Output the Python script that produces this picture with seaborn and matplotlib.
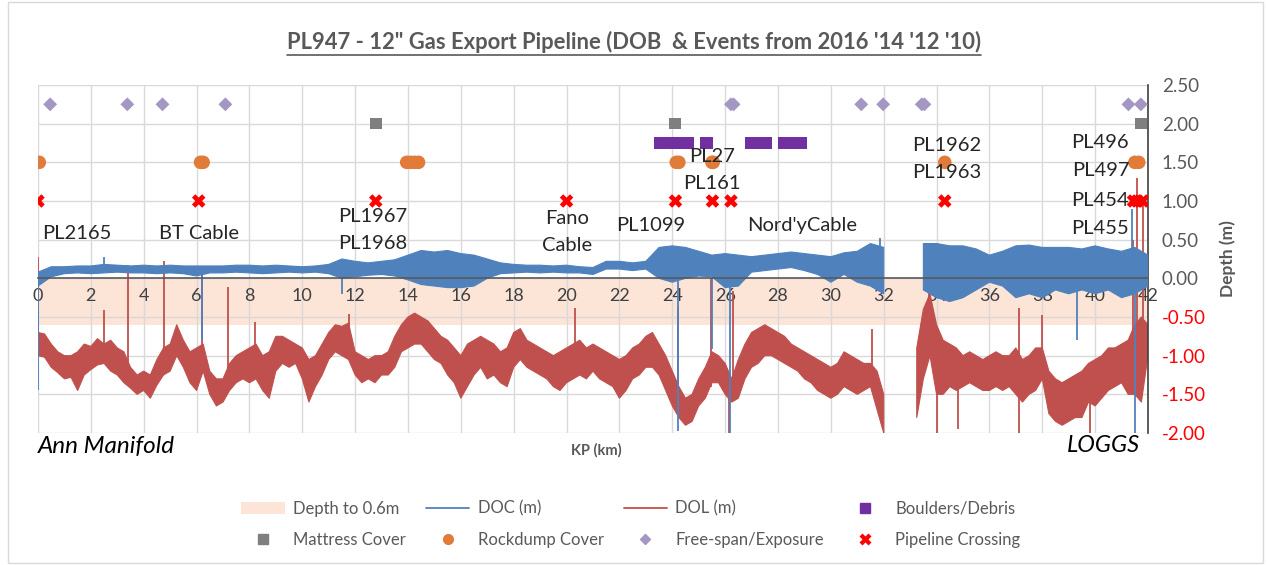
import numpy as np
import matplotlib
matplotlib.use("Agg")
import matplotlib.pyplot as plt
import seaborn as sns
from matplotlib.lines import Line2D
from matplotlib.patches import Patch, Rectangle

# ---- data (KP in km, depth in m) ----
kp_dol = np.arange(0, 42.01, 0.25)
dol_hi = [-0.70, -0.72, -0.85, -0.95, -1.00, -1.00, -0.95, -0.85, -0.88, -0.78, -0.85, -0.80,
          -0.90, -0.95, -1.15, -1.25, -1.20, -1.25, -1.05, -0.90, -0.85, -0.60, -0.80, -0.95,
          -0.90, -0.85, -1.20, -1.30, -1.30, -1.10, -1.00, -0.95, -0.90, -0.85, -1.00, -0.95,
          -0.75, -0.75, -0.80, -0.85, -0.90, -1.05, -1.00, -0.85, -0.70, -0.60, -0.62, -0.58,
          -0.95, -1.00, -1.05, -1.00, -1.00, -0.95, -0.75, -0.60, -0.50, -0.45, -0.50, -0.55,
          -0.65, -0.75, -0.80, -0.90, -1.00, -0.85, -0.80, -0.75, -0.80, -0.85, -0.95, -0.90,
          -0.70, -0.65, -0.80, -0.85, -0.90, -0.95, -1.00, -0.95, -0.90, -0.85, -0.80, -0.90,
          -0.85, -0.90, -0.95, -1.00, -1.05, -1.00, -0.90, -0.85, -0.75, -0.70, -0.85, -1.00,
          -1.20, -1.40, -1.55, -1.50, -1.30, -1.15, -0.95, -1.00, -1.10, -1.30, -1.05, -0.85,
          -0.70, -0.65, -0.60, -0.65, -0.70, -0.75, -0.85, -0.90, -0.95, -1.00, -1.05, -1.10,
          -1.15, -1.10, -0.95, -1.00, -1.05, -1.10, -1.10, -1.20, -1.50, np.nan, np.nan, np.nan,
          np.nan, -0.90, -0.40, -0.20, -0.60, -0.80, -0.85, -0.90, -1.00, -0.95, -1.00, -1.05,
          -1.00, -0.95, -1.00, -1.00, -0.90, -1.05, -1.00, -0.90, -0.90, -1.20, -1.30, -1.35,
          -1.30, -1.25, -1.20, -1.10, -1.05, -1.00, -0.90, -0.90, -0.85, -0.80, -0.60, -0.50,
          -0.60]
dol_lo = [-1.00, -1.02, -1.15, -1.22, -1.30, -1.28, -1.45, -1.25, -1.18, -1.12, -1.10, -1.20,
          -1.25, -1.35, -1.42, -1.50, -1.45, -1.55, -1.38, -1.25, -1.20, -1.00, -1.15, -1.35,
          -1.45, -1.20, -1.50, -1.65, -1.60, -1.45, -1.35, -1.30, -1.35, -1.30, -1.45, -1.55,
          -1.20, -1.10, -1.15, -1.10, -1.30, -1.60, -1.40, -1.25, -1.05, -0.95, -1.00, -1.05,
          -1.25, -1.35, -1.30, -1.35, -1.25, -1.25, -1.15, -0.95, -0.90, -0.85, -0.85, -0.95,
          -1.05, -1.10, -1.25, -1.35, -1.55, -1.40, -1.25, -1.15, -1.30, -1.25, -1.35, -1.40,
          -1.15, -1.05, -1.15, -1.20, -1.25, -1.30, -1.40, -1.45, -1.35, -1.30, -1.25, -1.30,
          -1.20, -1.30, -1.35, -1.40, -1.55, -1.45, -1.30, -1.25, -1.15, -1.15, -1.25, -1.45,
          -1.65, -1.80, -1.90, -1.85, -1.65, -1.55, -1.35, -1.35, -1.50, -1.60, -1.55, -1.30,
          -1.15, -1.10, -1.00, -1.00, -1.05, -1.10, -1.15, -1.20, -1.30, -1.35, -1.45, -1.50,
          -1.55, -1.50, -1.40, -1.45, -1.50, -1.45, -1.40, -1.70, -2.00, np.nan, np.nan, np.nan,
          np.nan, -1.80, -1.30, -1.00, -1.50, -1.50, -1.40, -1.45, -1.40, -1.35, -1.40, -1.45,
          -1.45, -1.40, -1.45, -1.40, -1.50, -1.60, -1.50, -1.45, -1.30, -1.75, -1.85, -1.90,
          -1.85, -1.80, -1.80, -1.60, -1.65, -1.55, -1.45, -1.40, -1.35, -1.50, -1.50, -1.60,
          -1.00]

kp_doc = np.arange(0, 42.01, 0.5)
doc_hi = [0.08, 0.15, 0.15, 0.16, 0.16, 0.18, 0.17, 0.16, 0.17, 0.16, 0.17, 0.16,
          0.16, 0.16, 0.16, 0.17, 0.17, 0.16, 0.17, 0.16, 0.15, 0.16, 0.18, 0.25,
          0.22, 0.20, 0.22, 0.24, 0.30, 0.36, 0.34, 0.36, 0.32, 0.30, 0.25, 0.20,
          0.18, 0.17, 0.17, 0.16, 0.17, 0.15, 0.14, 0.22, 0.22, 0.20, 0.22, 0.40,
          0.42, 0.40, 0.35, 0.30, 0.32, 0.30, 0.28, 0.30, 0.32, 0.34, 0.32, 0.30,
          0.28, 0.33, 0.35, 0.45, 0.40, np.nan, np.nan, 0.45, 0.45, 0.42, 0.42, 0.38,
          0.30, 0.35, 0.42, 0.43, 0.40, 0.40, 0.40, 0.38, 0.42, 0.38, 0.35, 0.40,
          0.30]
doc_lo = [-0.10, 0.02, 0.06, 0.07, 0.06, 0.07, 0.08, 0.07, 0.07, 0.06, 0.07, 0.06,
          0.03, 0.07, 0.07, 0.08, 0.07, 0.06, 0.07, 0.08, 0.07, 0.08, 0.06, 0.00,
          0.02, 0.04, 0.05, 0.03, -0.02, -0.08, -0.10, -0.12, -0.12, -0.10, 0.00, 0.06,
          0.07, 0.08, 0.07, 0.08, 0.07, 0.07, 0.05, 0.12, 0.12, 0.10, 0.12, 0.00,
          -0.05, 0.00, 0.03, 0.02, -0.12, -0.10, 0.08, 0.10, 0.12, 0.14, 0.10, 0.05,
          -0.05, 0.05, -0.05, -0.10, -0.20, np.nan, np.nan, -0.15, -0.25, -0.30, -0.25, -0.15,
          -0.05, -0.10, -0.25, -0.20, -0.25, -0.15, -0.20, -0.15, -0.20, -0.15, -0.25, -0.20,
          -0.10]

# narrow spikes: KP, base, tip
dol_spike_kp = [0.0, 2.5, 3.4, 4.75, 6.2, 7.2, 8.2, 11.75, 20.3, 24.2, 25.45, 26.15, 26.3,
                31.55, 33.7, 34.0, 34.8, 37.1, 38.0, 39.8, 41.45, 41.6, 41.8]
dol_spike_base = [-0.9, -0.9, -1.1, -1.0, -1.0, -1.2, -1.0, -0.8, -1.0, -1.5, -1.4, -1.5, -1.5,
                  -1.2, -1.0, -1.2, -1.3, -0.39, -1.2, -1.4, -1.0, -1.0, -1.0]
dol_spike_tip = [0.28, -0.41, 0.17, 0.22, 0.15, -0.11, -0.57, -0.46, -0.39, -0.37, 0.0, -2.0, -0.17,
                 -0.65, 0.15, -2.0, -1.95, -2.0, -0.48, -2.0, 0.5, 1.3, 1.0]
doc_spike_kp = [0.0, 2.5, 6.2, 11.5, 24.2, 25.5, 26.2, 31.85, 39.3, 41.4, 41.5]
doc_spike_base = [0.0, 0.15, 0.05, 0.05, 0.0, 0.0, 0.0, 0.2, 0.0, 0.2, 0.0]
doc_spike_tip = [-1.45, 0.28, -0.80, -0.20, -1.98, -0.91, -2.0, 0.52, -0.80, 0.9, -2.0]

# events
freespan_kp = [0.46, 3.38, 4.71, 7.09, 26.22, 26.32, 31.15, 31.98, 33.44, 33.54, 41.26, 41.73]
mattress_kp = [12.78, 24.1, 41.73]
rockdump_kp = [0.05, 6.15, 6.25, 13.95, 14.1, 14.25, 14.4, 24.15, 24.25, 25.5, 25.55,
               34.31, 41.5, 41.65]
boulder_kp = [23.56, 23.7, 23.85, 24.0, 24.15, 24.3, 24.45, 24.6, 25.28, 25.32,
              27.0, 27.15, 27.3, 27.45, 27.54, 28.23, 28.4, 28.55, 28.7, 28.86]
crossing_kp = [0.0, 6.08, 12.78, 20.0, 24.12, 25.52, 26.22, 34.31, 41.45, 41.6, 41.8]

label_text = ["PL2165", "BT Cable", "PL1967", "PL1968", "Fano", "Cable", "PL1099", "PL27",
              "PL161", "Nord'yCable", "PL1962", "PL1963", "PL496", "PL497", "PL454", "PL455"]
label_kp = [1.45, 6.08, 12.65, 12.65, 20.0, 20.0, 23.2, 25.5, 25.5, 28.9, 34.4, 34.4,
            40.2, 40.2, 40.2, 40.2]
label_y = [0.58, 0.58, 0.80, 0.45, 0.78, 0.43, 0.68, 1.58, 1.23, 0.68, 1.72, 1.37,
           1.76, 1.40, 1.01, 0.64]

# ---- colours ----
c_doc = "#4F81BD"
c_dol = "#C0504D"
c_band = "#FCE4D6"
c_text = "#595959"

sns.set_theme(style="whitegrid")
plt.rcParams["font.family"] = ["Lato", "DejaVu Sans"]

fig = plt.figure(figsize=(12.68, 5.65), dpi=100)
ax = fig.add_axes([38 / 1268, 1 - 433 / 565, 1110 / 1268, 348 / 565])
ax.set_facecolor("white")

ax.axhspan(-0.6, 0, color=c_band, zorder=0.5, lw=0)

ax.fill_between(kp_dol, dol_lo, dol_hi, color=c_dol, lw=0.8, zorder=2)
ax.vlines(dol_spike_kp, dol_spike_base, dol_spike_tip, color=c_dol, lw=1.3, zorder=2)
ax.fill_between(kp_doc, doc_lo, doc_hi, color=c_doc, lw=0.8, zorder=3)
ax.vlines(doc_spike_kp, doc_spike_base, doc_spike_tip, color=c_doc, lw=1.3, zorder=3)

sns.scatterplot(x=boulder_kp, y=[1.75] * len(boulder_kp), marker="s", s=80,
                color="#7030A0", edgecolor="none", ax=ax, zorder=4)
sns.scatterplot(x=mattress_kp, y=[2.0] * len(mattress_kp), marker="s", s=70,
                color="#7F7F7F", edgecolor="none", ax=ax, zorder=4)
sns.scatterplot(x=rockdump_kp, y=[1.5] * len(rockdump_kp), marker="o", s=95,
                color="#E07B39", edgecolor="none", ax=ax, zorder=4)
sns.scatterplot(x=freespan_kp, y=[2.25] * len(freespan_kp), marker="D", s=50,
                color="#A497C4", edgecolor="none", ax=ax, zorder=4)
sns.scatterplot(x=crossing_kp, y=[1.0] * len(crossing_kp), marker="X", s=95,
                color="#FF0000", edgecolor="none", ax=ax, zorder=5)

for t, k, yv in zip(label_text, label_kp, label_y):
    ax.text(k, yv, t, ha="center", va="center", fontsize=14.5, color="#262626", zorder=6)

ax.set_xlim(0, 42)
ax.set_ylim(-2.0, 2.5)
ax.set_xticks(range(0, 43, 2))
ax.set_yticks(np.arange(-2.0, 2.51, 0.5))
ax.set_yticklabels([f"{v:.2f}" for v in np.arange(-2.0, 2.51, 0.5)])
ax.yaxis.tick_right()
ax.yaxis.set_label_position("right")
ax.tick_params(axis="x", length=0, pad=7, labelsize=13, labelcolor="#404040")
ax.tick_params(axis="y", length=0, pad=10, labelsize=13.5)
for lab, v in zip(ax.get_yticklabels(), np.arange(-2.0, 2.51, 0.5)):
    lab.set_color("#FF0000" if v < 0 else c_text)
ax.grid(True, color="#D9D9D9", lw=1)
ax.set_axisbelow(True)
for side in ["left", "top"]:
    ax.spines[side].set_visible(False)
ax.spines["bottom"].set_position(("data", 0))
ax.spines["bottom"].set_color("#595959")
ax.spines["bottom"].set_linewidth(1.2)
ax.spines["bottom"].set_zorder(3.5)
ax.spines["right"].set_color("#404040")
ax.spines["right"].set_linewidth(1.2)
ax.set_ylabel("Depth (m)", fontsize=12.5, fontweight="bold", color=c_text, labelpad=10)
ax.set_xlabel("")

# title with underline
title = fig.text(0.5, 1 - 42 / 565, "PL947 - 12\" Gas Export Pipeline (DOB  & Events from 2016 '14 '12 '10)",
                 ha="center", va="center", fontsize=15.8, fontweight="bold", color=c_text)
fig.canvas.draw()
bb = title.get_window_extent().transformed(fig.transFigure.inverted())
fig.add_artist(Line2D([bb.x0, bb.x1], [bb.y0 - 0.004, bb.y0 - 0.004], color=c_text, lw=1.2))

fig.text(38 / 1268, 1 - 446 / 565, "Ann Manifold", ha="left", va="center",
         fontsize=17.5, style="italic", color="#000000")
fig.text(1140 / 1268, 1 - 446 / 565, "LOGGS", ha="right", va="center",
         fontsize=17, style="italic", color="#000000")
fig.text(596 / 1268, 1 - 450 / 565, "KP (km)", ha="center", va="center",
         fontsize=10.5, fontweight="bold", color=c_text)

handles = [
    Patch(facecolor=c_band, edgecolor="none", label="Depth to 0.6m"),
    Line2D([], [], marker="s", ls="none", color="#7F7F7F", ms=7, label="Mattress Cover"),
    Line2D([], [], color=c_doc, lw=1.3, label="DOC (m)"),
    Line2D([], [], marker="o", ls="none", color="#E07B39", ms=7, label="Rockdump Cover"),
    Line2D([], [], color=c_dol, lw=1.3, label="DOL (m)"),
    Line2D([], [], marker="D", ls="none", color="#A497C4", ms=5.5, label="Free-span/Exposure"),
    Line2D([], [], marker="s", ls="none", color="#7030A0", ms=7, label="Boulders/Debris"),
    Line2D([], [], marker="X", ls="none", color="#FF0000", mec="none", ms=9, label="Pipeline Crossing"),
]
leg = fig.legend(handles=handles, ncol=4, loc="center", bbox_to_anchor=(631 / 1268, 1 - 524 / 565),
                 frameon=False, fontsize=12, handlelength=2.6, columnspacing=1.2, labelspacing=0.9,
                 handletextpad=0.5)
for t in leg.get_texts():
    t.set_color(c_text)

fig.add_artist(Rectangle((0.006, 0.003), 0.99, 0.994, transform=fig.transFigure,
                         fill=False, edgecolor="#D9D9D9", lw=1))

fig.savefig("out.png", dpi=100)
